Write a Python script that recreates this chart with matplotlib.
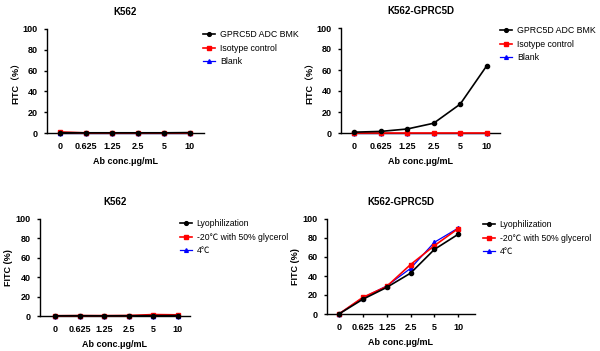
import matplotlib.pyplot as plt
import numpy as np

plt.rcParams['font.family'] = ['Liberation Sans', 'Noto Sans CJK SC', 'DejaVu Sans']

conc = ['0', '0.625', '1.25', '2.5', '5', '10']

# top row: binding, GPRC5D ADC BMK vs controls
top_labels = ['GPRC5D ADC BMK', 'Isotype control', 'Blank']
k562_bmk = [0.3, 0.2, 0.2, 0.2, 0.2, 0.4]
k562_iso = [1.0, 0.1, 0.1, 0.1, 0.1, 0.1]
k562_blank = [0.0, 0.0, 0.0, 0.0, 0.0, 0.0]
gp_bmk = [0.8, 1.5, 3.8, 9.3, 27.5, 64.0]
gp_iso = [0.1, 0.1, 0.1, 0.1, 0.1, 0.1]
gp_blank = [0.0, 0.0, 0.0, 0.0, 0.0, 0.0]

# bottom row: storage conditions
bot_labels = ['Lyophilization', '-20\u2103 with 50% glycerol', '4\u2103']
k562_lyo = [0.2, 0.3, 0.2, 0.3, 0.4, 0.5]
k562_gly = [0.3, 0.4, 0.4, 0.5, 1.5, 1.2]
k562_4c = [0.1, 0.2, 0.2, 0.3, 0.3, 0.4]
gp_lyo = [0.0, 15.5, 28.0, 43.0, 68.0, 84.0]
gp_gly = [0.0, 17.5, 29.0, 52.0, 72.0, 90.0]
gp_4c = [0.0, 17.0, 29.5, 48.0, 75.5, 90.5]

W, H = 600, 351
fig = plt.figure(figsize=(6, 3.51), dpi=100)

def panel(px, title, series, labels, xlim, ylab, leg_xy, leg_fs):
    x0, y0, x1, y1 = px
    ax = fig.add_axes([x0 / W, 1 - y1 / H, (x1 - x0) / W, (y1 - y0) / H])
    x = np.arange(len(conc))
    styles = [('black', 'o', 1.2, 4), ('red', 's', 1.2, 3), ('blue', '^', 0.9, 2)]
    for (c, m, lw, z), vals, lab in zip(styles, series, labels):
        ax.plot(x, vals, color=c, marker=m, ms=3, lw=lw, label=lab,
                clip_on=False, zorder=z)
    ax.set_xlim(*xlim)
    ax.set_ylim(0, 100)
    ax.set_xticks(x)
    ax.set_xticklabels(conc)
    ax.set_yticks([0, 20, 40, 60, 80, 100])
    for s in ['top', 'right']:
        ax.spines[s].set_visible(False)
    for s in ['left', 'bottom']:
        ax.spines[s].set_linewidth(1.0)
    ax.tick_params(labelsize=6.5, width=1.0, length=2.5, pad=4)
    for t in ax.get_xticklabels() + ax.get_yticklabels():
        t.set_fontweight('bold')
    ax.set_title(title, fontsize=7, fontweight='bold', pad=10)
    ax.set_xlabel('Ab conc.\u03bcg/mL', fontsize=6.5, fontweight='bold', labelpad=4)
    ax.set_ylabel(ylab, fontsize=6.5, fontweight='bold', labelpad=2)
    ax.legend(loc='upper left', bbox_to_anchor=(leg_xy[0] / W, 1 - leg_xy[1] / H),
              bbox_transform=fig.transFigure, frameon=False, fontsize=leg_fs,
              handlelength=1.3, handletextpad=0.6, labelspacing=0.5, borderpad=0,
              markerscale=0.9)
    return ax

panel((47, 29, 204, 133), 'K562', [k562_bmk, k562_iso, k562_blank], top_labels,
      (-0.5, 5.54), 'FITC\uff08%\uff09', (199, 26), 6.3)
panel((341, 28, 500, 133), 'K562-GPRC5D', [gp_bmk, gp_iso, gp_blank], top_labels,
      (-0.49, 5.5), 'FITC\uff08%\uff09', (496, 22), 6.3)
panel((40, 219, 190, 316), 'K562', [k562_lyo, k562_gly, k562_4c], bot_labels,
      (-0.61, 5.49), 'FITC (%)', (176, 215), 6.2)
panel((327, 219, 475, 314), 'K562-GPRC5D', [gp_lyo, gp_gly, gp_4c], bot_labels,
      (-0.5, 5.7), 'FITC (%)', (479, 216), 6.2)

fig.savefig('out.png', dpi=100)
